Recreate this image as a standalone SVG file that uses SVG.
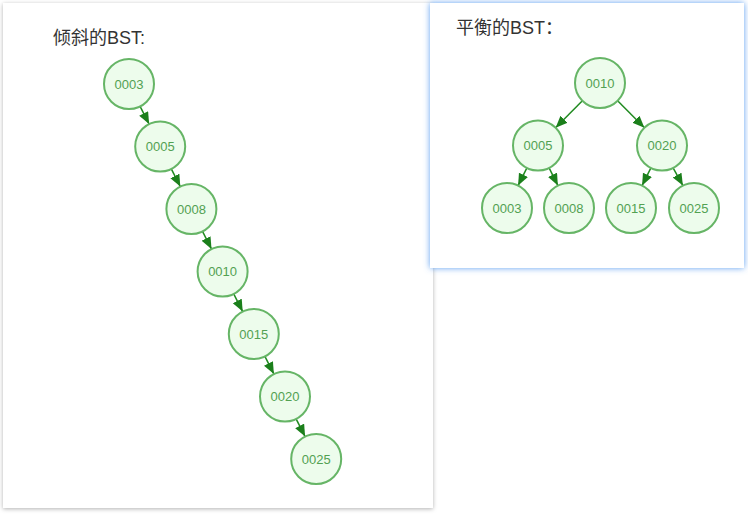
<svg xmlns="http://www.w3.org/2000/svg" width="748" height="523" viewBox="0 0 748 523">
<defs>
<filter id="gshadow" x="-5%" y="-5%" width="110%" height="110%">
<feDropShadow dx="0" dy="1" stdDeviation="2" flood-color="#000" flood-opacity="0.3"/>
</filter>
<filter id="bshadow" x="-5%" y="-5%" width="110%" height="110%">
<feDropShadow dx="0" dy="0" stdDeviation="3" flood-color="#4d94f0" flood-opacity="0.9"/>
</filter>
<marker id="arr" markerUnits="userSpaceOnUse" markerWidth="13" markerHeight="11" refX="12" refY="5" orient="auto">
<path d="M0,0 L12,5 L0,10 z" fill="#1b7f1b"/>
</marker>
<style>
.card{fill:#fff}
.node circle{fill:#edfcec;stroke:#66b566;stroke-width:2}
.node text{font-family:"Liberation Sans",Arial,sans-serif;font-size:13px;fill:#52a152;text-anchor:middle;dominant-baseline:central}
.edge{stroke:#1f8a1f;stroke-width:1.5;fill:none;marker-end:url(#arr)}
.title{font-family:"Liberation Sans","Noto Sans CJK SC",sans-serif;font-size:18px;fill:#333}
</style>
</defs>
<rect width="748" height="523" fill="#fff"/>
<rect class="card" x="3" y="3" width="430" height="505" filter="url(#gshadow)"/>
<rect class="card" x="430" y="3" width="314" height="265" filter="url(#bshadow)"/>
<text class="title" x="53" y="44">倾斜的BST:</text>
<text class="title" x="456" y="34">平衡的BST：</text>
<g id="connectors">
<line class="edge" x1="140.1" y1="106.4" x2="149.1" y2="124.1"/>
<line class="edge" x1="171.3" y1="168.9" x2="180.3" y2="186.6"/>
<line class="edge" x1="202.5" y1="231.4" x2="211.5" y2="249.1"/>
<line class="edge" x1="233.7" y1="293.9" x2="242.7" y2="311.6"/>
<line class="edge" x1="264.9" y1="356.4" x2="273.9" y2="374.1"/>
<line class="edge" x1="296.1" y1="418.9" x2="305.1" y2="436.6"/>
<line class="edge" x1="582.4" y1="100.8" x2="555.6" y2="127.8"/>
<line class="edge" x1="617.6" y1="100.8" x2="644.4" y2="127.8"/>
<line class="edge" x1="526.9" y1="167.9" x2="518.1" y2="185.6"/>
<line class="edge" x1="549.1" y1="167.9" x2="557.9" y2="185.6"/>
<line class="edge" x1="650.9" y1="167.9" x2="642.1" y2="185.6"/>
<line class="edge" x1="673.1" y1="167.9" x2="682.9" y2="185.6"/>
</g>
<g id="l0003" class="node"><circle cx="129" cy="84" r="25"/><text x="129" y="84">0003</text></g>
<g id="l0005" class="node"><circle cx="160.2" cy="146.5" r="25"/><text x="160.2" y="146.5">0005</text></g>
<g id="l0008" class="node"><circle cx="191.4" cy="209" r="25"/><text x="191.4" y="209">0008</text></g>
<g id="l0010" class="node"><circle cx="222.6" cy="271.5" r="25"/><text x="222.6" y="271.5">0010</text></g>
<g id="l0015" class="node"><circle cx="253.8" cy="334" r="25"/><text x="253.8" y="334">0015</text></g>
<g id="l0020" class="node"><circle cx="285" cy="396.5" r="25"/><text x="285" y="396.5">0020</text></g>
<g id="l0025" class="node"><circle cx="316.2" cy="459" r="25"/><text x="316.2" y="459">0025</text></g>
<g id="r0010" class="node"><circle cx="600" cy="83" r="25"/><text x="600" y="83">0010</text></g>
<g id="r0005" class="node"><circle cx="538" cy="145.5" r="25"/><text x="538" y="145.5">0005</text></g>
<g id="r0020" class="node"><circle cx="662" cy="145.5" r="25"/><text x="662" y="145.5">0020</text></g>
<g id="r0003" class="node"><circle cx="507" cy="208" r="25"/><text x="507" y="208">0003</text></g>
<g id="r0008" class="node"><circle cx="569" cy="208" r="25"/><text x="569" y="208">0008</text></g>
<g id="r0015" class="node"><circle cx="631" cy="208" r="25"/><text x="631" y="208">0015</text></g>
<g id="r0025" class="node"><circle cx="694" cy="208" r="25"/><text x="694" y="208">0025</text></g>
</svg>
